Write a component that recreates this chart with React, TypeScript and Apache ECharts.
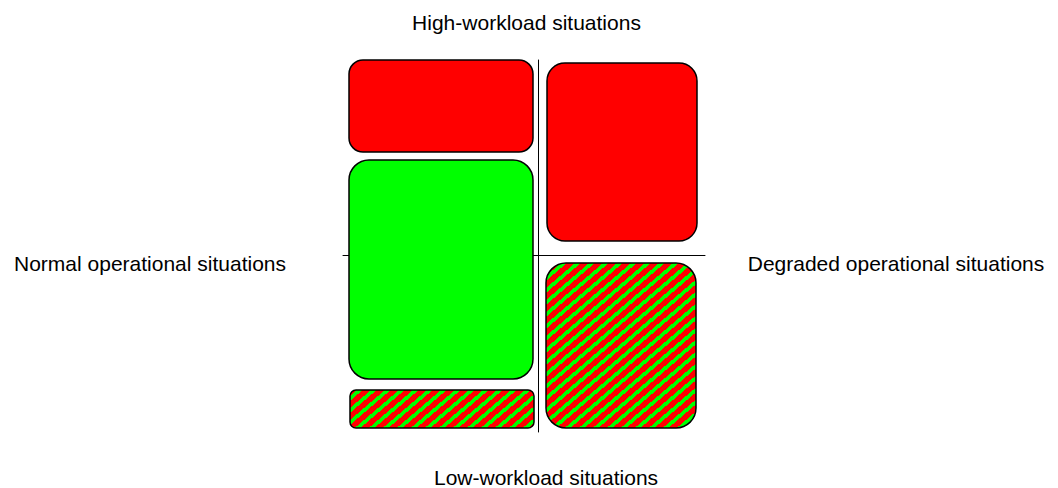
import React, { useEffect, useRef } from "react";
import * as echarts from "echarts";

// Quadrant axis titles
const axisTitles = {
  top: "High-workload situations",
  bottom: "Low-workload situations",
  left: "Normal operational situations",
  right: "Degraded operational situations",
};

// Workload axis (y) and operational axis (x) extents; 0 is where the cross meets
const xRange = [-195, 167];
const yRange = [-177, 195];

// Boxes: [left, right] on the operational axis, [bottom, top] on the workload axis
const boxLeft = [-189, -189, -188, 9, 8];
const boxRight = [-5, -5, -4, 159, 158];
const boxBottom = [103, -124, -173, 14, -173];
const boxTop = [195, 95, -135, 192, -8];
const boxState = ["unsafe", "safe", "mixed", "unsafe", "mixed"];

export default function App() {
  const ref = useRef<HTMLDivElement>(null);

  useEffect(() => {
    if (!ref.current) return;
    const chart = echarts.init(ref.current, null, { renderer: "svg" });

    // hatch tile (red / green diagonal stripes)
    const W = 14;
    const H = 12;
    const cv = document.createElement("canvas");
    cv.width = W;
    cv.height = H;
    const ctx = cv.getContext("2d")!;
    const img = ctx.createImageData(W, H);
    for (let y = 0; y < H; y++) {
      for (let x = 0; x < W; x++) {
        const ph = ((((x + 0.5 + (y + 0.5) * (W / H)) % W) + W) % W) / W;
        const green = ph < 0.4;
        const k = (y * W + x) * 4;
        img.data[k] = green ? 0 : 255;
        img.data[k + 1] = green ? 255 : 0;
        img.data[k + 2] = 0;
        img.data[k + 3] = 255;
      }
    }
    ctx.putImageData(img, 0, 0);
    const hatch: any = { image: cv, repeat: "repeat" };

    const fills: Record<string, any> = {
      unsafe: "#ff0000",
      safe: "#00ff00",
      mixed: hatch,
    };
    const radii = [14, 20, 6, 18, 20];

    const data = boxLeft.map((_, i) => [boxLeft[i], boxRight[i], boxBottom[i], boxTop[i]]);

    const textStyle = {
      fontSize: 21,
      fontFamily: "'Liberation Sans', Arial, sans-serif",
      fill: "#000",
      align: "center",
      verticalAlign: "middle",
    };

    chart.setOption({
      animation: false,
      backgroundColor: "#fff",
      grid: { left: 343, right: 353, top: 60, bottom: 56 },
      xAxis: {
        type: "value",
        min: xRange[0],
        max: xRange[1],
        axisLine: { show: true, onZero: true, lineStyle: { color: "#000", width: 1 } },
        axisTick: { show: false },
        axisLabel: { show: false },
        splitLine: { show: false },
      },
      yAxis: {
        type: "value",
        min: yRange[0],
        max: yRange[1],
        axisLine: { show: true, onZero: true, lineStyle: { color: "#000", width: 1 } },
        axisTick: { show: false },
        axisLabel: { show: false },
        splitLine: { show: false },
      },
      series: [
        {
          type: "custom",
          data,
          encode: { x: [0, 1], y: [2, 3] },
          renderItem: (params: any, api: any) => {
            const i = params.dataIndex;
            const p0 = api.coord([api.value(0), api.value(3)]);
            const p1 = api.coord([api.value(1), api.value(2)]);
            return {
              type: "rect",
              shape: {
                x: p0[0],
                y: p0[1],
                width: p1[0] - p0[0],
                height: p1[1] - p0[1],
                r: radii[i],
              },
              style: {
                fill: fills[boxState[i]],
                stroke: "#000",
                lineWidth: 1.5,
              },
            };
          },
        },
      ],
      graphic: [
        { type: "text", x: 526.5, y: 22, style: { ...textStyle, text: axisTitles.top } },
        { type: "text", x: 546, y: 477, style: { ...textStyle, text: axisTitles.bottom } },
        { type: "text", x: 150, y: 263, style: { ...textStyle, text: axisTitles.left } },
        { type: "text", x: 896, y: 263, style: { ...textStyle, text: axisTitles.right } },
      ],
    });

    return () => chart.dispose();
  }, []);

  return (
    <div
      ref={ref}
      style={{ position: "fixed", left: 0, top: 0, width: 1058, height: 488 }}
    />
  );
}
